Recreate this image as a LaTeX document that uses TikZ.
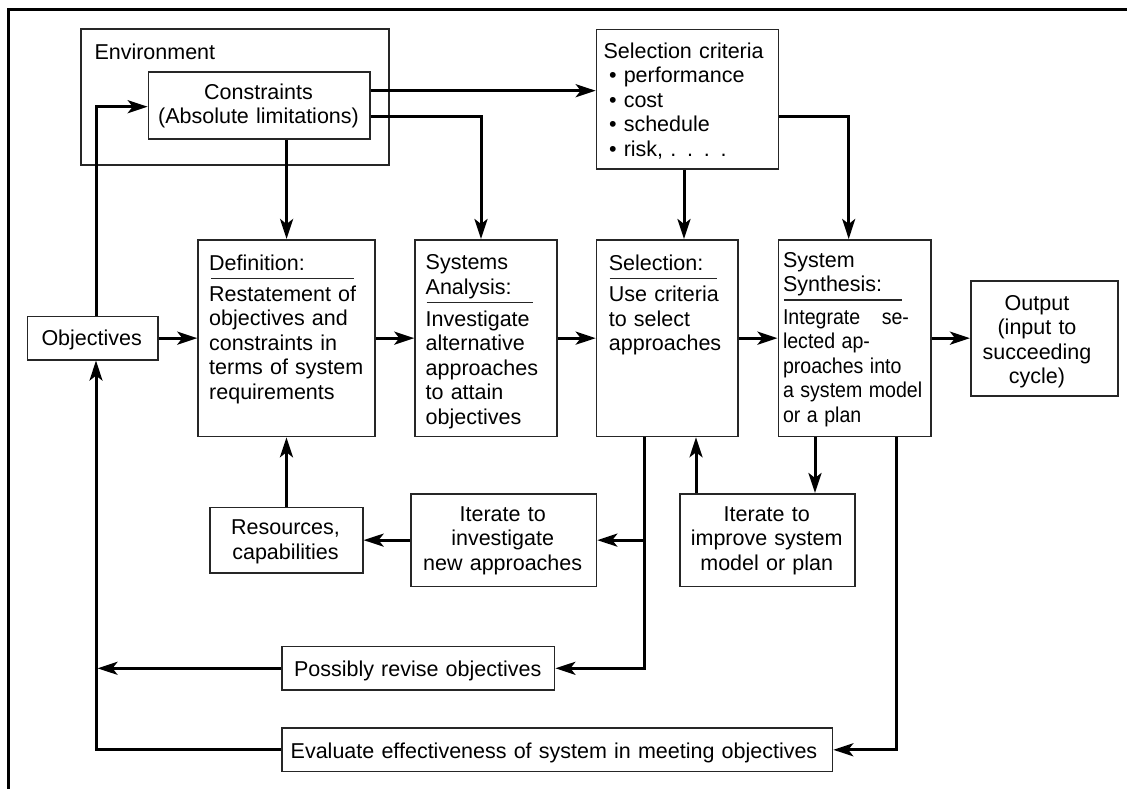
\documentclass[tikz,border=0pt]{standalone}
\usepackage{fontspec}
\usepackage{graphicx}
\setmainfont{Liberation Sans}
\usetikzlibrary{arrows.meta}
\newcommand\diagfont{\fontsize{21.5}{24.5}\selectfont}
% horizontally squeezed line, used for the tightly set synthesis text
\newcommand\narrowline[1]{\scalebox{0.91}[1]{#1}}

\begin{document}
\begin{tikzpicture}[x=1pt,y=-1pt,
  box/.style={draw=black!85, line width=1.6pt, anchor=north west, inner sep=0pt},
  conn/.style={line width=3pt, -{Stealth[length=20pt,width=13pt,inset=5pt]}},
  divider/.style={line width=1.4pt, draw=black!85},
  lbl/.style={font=\diagfont, inner sep=0pt, anchor=base west, text width=#1, align=left},
  clbl/.style={font=\diagfont, inner sep=0pt, anchor=base, text width=#1, align=center},
]
\useasboundingbox (0,0) rectangle (1127,789);

% outer frame (left and top edges)
\draw[line width=3pt] (8.8,789) -- (8.8,10) -- (1127,10);

% boxes
\node[box, minimum width=308.3pt, minimum height=136pt]   (env)   at (80,28.3) {};
\node[box, minimum width=221.3pt, minimum height=67.3pt]  (cons)  at (147.7,71) {};
\node[box, minimum width=182pt,   minimum height=139.6pt] (crit)  at (595.7,28.7) {};
\node[box, minimum width=130.6pt, minimum height=43.3pt]  (obj)   at (26.7,315.7) {};
\node[box, minimum width=177pt,   minimum height=196.7pt] (def)   at (197.3,239) {};
\node[box, minimum width=141.7pt, minimum height=196.7pt] (ana)   at (414.3,239) {};
\node[box, minimum width=141.6pt, minimum height=196.7pt] (sel)   at (595.7,239) {};
\node[box, minimum width=152.5pt, minimum height=196.7pt] (syn)   at (777.5,239) {};
\node[box, minimum width=147.3pt, minimum height=115pt]   (out)   at (970,280) {};
\node[box, minimum width=152.7pt, minimum height=65.6pt]  (res)   at (209.3,506.7) {};
\node[box, minimum width=185.8pt, minimum height=92.7pt]  (itinv) at (409.9,493) {};
\node[box, minimum width=174.7pt, minimum height=92.7pt]  (itimp) at (679.3,493) {};
\node[box, minimum width=272.5pt, minimum height=43.6pt]  (rev)   at (281.3,645.7) {};
\node[box, minimum width=550.4pt, minimum height=43.4pt]  (eval)  at (281.3,727.3) {};

% texts
\node[lbl=200pt] (tenv) at (94.3,60) {Environment};
\node[clbl=220pt] (tcons) at (258.5,99.3) {Constraints\\(Absolute limitations)};
\node[lbl=175pt] (tcrit) at (603.3,58.3) {Selection criteria\\
  \hspace*{5.6pt}• performance\\\hspace*{5.6pt}• cost\\
  \hspace*{5.6pt}• schedule\\\hspace*{5.6pt}• risk, . . . .};
\node[clbl=120pt] (tobj) at (91.7,345) {Objectives};
\node[lbl=160pt] (tdef) at (209,270.5) {Definition:};
\node[lbl=160pt] (bdef) at (209,301) {Restatement of\\objectives and\\constraints in\\terms of system\\requirements};
\node[lbl=130pt] (tana) at (425.5,269.5) {Systems\\Analysis:};
\node[lbl=130pt] (bana) at (425.5,326) {Investigate\\alternative\\approaches\\to attain\\objectives};
\node[lbl=130pt] (tsel) at (608.7,270) {Selection:};
\node[lbl=130pt] (bsel) at (608.7,301.5) {Use criteria\\to select\\approaches};
\node[lbl=140pt] (tsyn) at (782.8,267) {System\\Synthesis:};
\node[lbl=150pt] (bsyn) at (782.8,324)
  {\makebox[126pt][l]{\narrowline{Integrate}\hfill\narrowline{se-}}\\
   \narrowline{lected ap-}\\\narrowline{proaches into}\\
   \narrowline{a system model}\\\narrowline{or a plan}};
\node[clbl=140pt] (tout) at (1037,310) {Output\\(input to\\succeeding\\cycle)};
\node[clbl=150pt] (tres) at (285.5,534.5) {Resources,\\capabilities};
\node[clbl=180pt] (titinv) at (502.7,521) {Iterate to\\investigate\\new approaches};
\node[clbl=170pt] (titimp) at (766.7,521) {Iterate to\\improve system\\model or plan};
\node[clbl=260pt] (trev) at (417.7,676.5) {Possibly revise objectives};
\node[clbl=540pt] (teval) at (554,758) {Evaluate effectiveness of system in meeting objectives};

% rules under the box headings
\draw[divider] (211,278.3) -- (354,278.3);
\draw[divider] (426.7,302.3) -- (533.3,302.3);
\draw[divider] (609.7,278.3) -- (717,278.3);
\draw[divider] (783.8,300) -- (901.7,300);

% routing positions
\coordinate (xT) at (96,0);
\coordinate (yHi) at (0,90.7);
\coordinate (yLo) at (0,116.7);
\coordinate (yObj) at (0,106.7);
\coordinate (xAna) at (481,0);
\coordinate (xCrit) at (684,0);
\coordinate (xSyn) at (848.7,0);
\coordinate (xDrop) at (644,0);
\coordinate (xUp) at (696,0);
\coordinate (xDown) at (815,0);
\coordinate (xEval) at (896.7,0);

% main chain
\draw[conn] (obj.east) -- (obj.east -| def.west);
\draw[conn] (def.east) -- (def.east -| ana.west);
\draw[conn] (ana.east) -- (ana.east -| sel.west);
\draw[conn] (sel.east) -- (sel.east -| syn.west);
\draw[conn] (syn.east) -- (syn.east -| out.west);

% upper feeds
\draw[conn] (obj.north -| xT) |- (cons.west |- yObj);
\draw[conn] (cons.east |- yHi) -- (crit.west |- yHi);
\draw[conn] (cons.east |- yLo) -| (ana.north -| xAna);
\draw[conn] (cons.south -| def.north) -- (def.north);
\draw[conn] (crit.south -| xCrit) -- (sel.north -| xCrit);
\draw[conn] (crit.east |- yLo) -| (syn.north -| xSyn);

% feedback loops
\draw[conn] (sel.south -| xDrop) |- (rev.east);
\draw[conn] (itinv.east -| xDrop) -- (itinv.east);
\draw[conn] (itimp.north -| xUp) -- (sel.south -| xUp);
\draw[conn] (syn.south -| xDown) -- (itimp.north -| xDown);
\draw[conn] (syn.south -| xEval) |- (eval.east);
\draw[conn] (res.north) -- (def.south -| res.north);
\draw[conn] (itinv.west) -- (itinv.west -| res.east);
\draw[conn, shorten >=1.5pt] (rev.west) -- (rev.west -| xT);
\draw[conn] (eval.west) -| (obj.south -| xT);
\end{tikzpicture}
\end{document}
